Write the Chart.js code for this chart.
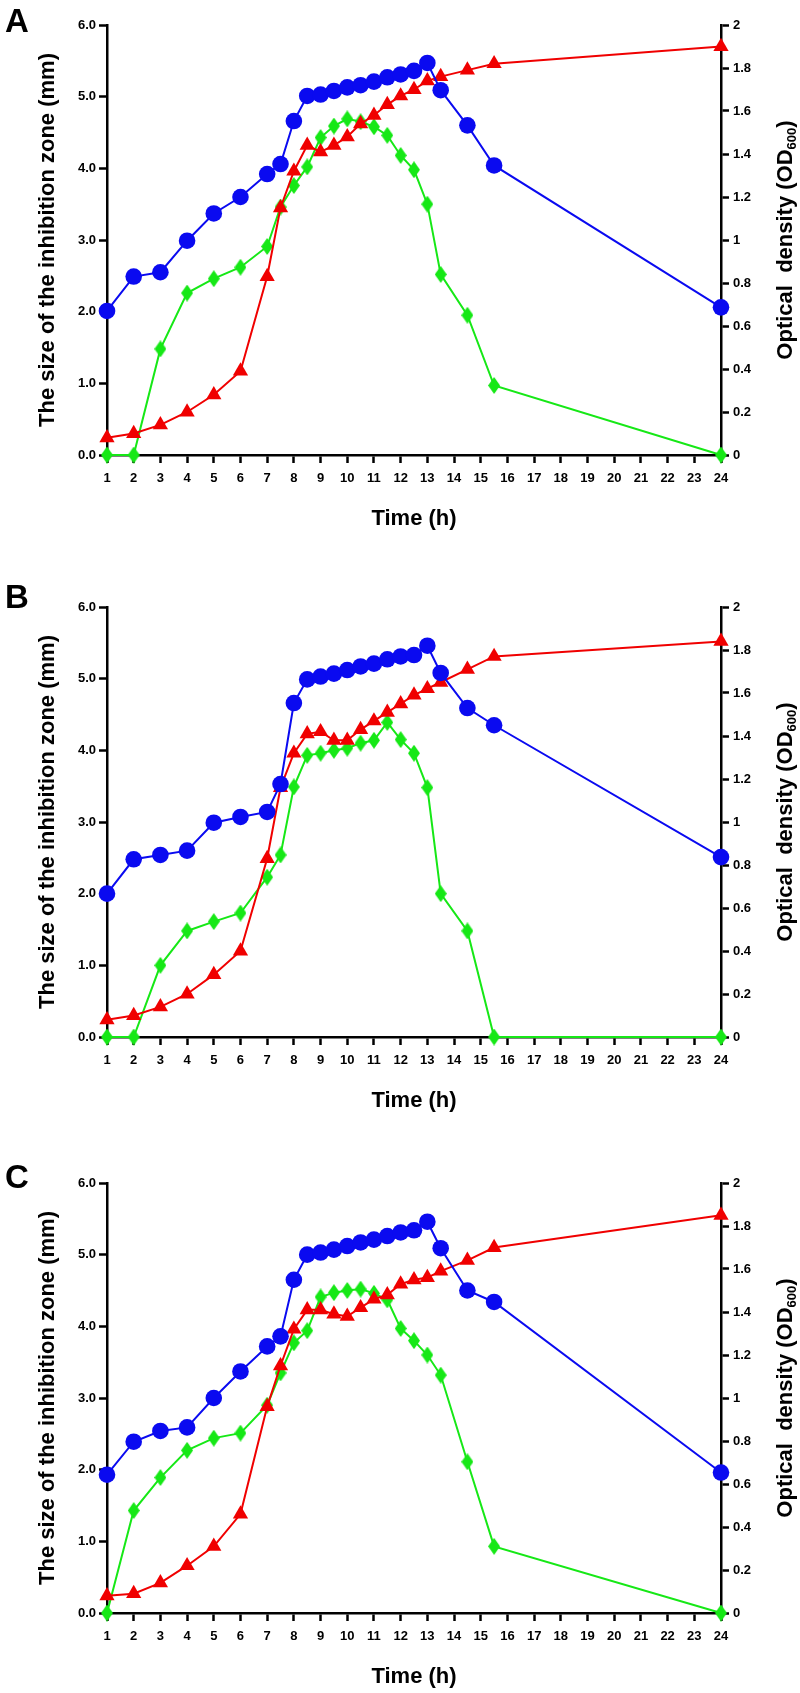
<!DOCTYPE html>
<html>
<head>
<meta charset="utf-8">
<script src="https://cdn.jsdelivr.net/npm/chart.js@4.4.1/dist/chart.umd.min.js"></script>
<style>
  html, body { margin: 0; padding: 0; background: #fff; }
  body { width: 800px; height: 1693px; position: relative; overflow: hidden; }
  .panel { position: absolute; left: 0; width: 800px; height: 535px; }
</style>
</head>
<body>
<div class="panel" style="top:0px"><canvas id="chartA"></canvas></div>
<div class="panel" style="top:582px"><canvas id="chartB"></canvas></div>
<div class="panel" style="top:1158px"><canvas id="chartC"></canvas></div>
<script>
// --- Data ---
const hours = [1, 2, 3, 4, 5, 6, 7, 7.5, 8, 8.5, 9, 9.5, 10, 10.5, 11, 11.5, 12, 12.5, 13, 13.5, 14.5, 15.5, 24];

const xTicks = [1, 2, 3, 4, 5, 6, 7, 8, 9, 10, 11, 12, 13, 14, 15, 16, 17, 18, 19, 20, 21, 22, 23, 24];
const zoneTicks = [0, 1, 2, 3, 4, 5, 6];
const odTicks = [0, 0.2, 0.4, 0.6, 0.8, 1, 1.2, 1.4, 1.6, 1.8, 2];

// panel A
const blueA = [2.01, 2.49, 2.55, 2.99, 3.37, 3.60, 3.92, 4.06, 4.66, 5.01, 5.03, 5.08, 5.13, 5.16, 5.21, 5.27, 5.31, 5.36, 5.47, 5.09, 4.60, 4.04, 2.06];
const greenA = [0, 0, 1.48, 2.26, 2.46, 2.62, 2.91, 3.46, 3.76, 4.02, 4.43, 4.59, 4.69, 4.65, 4.58, 4.46, 4.18, 3.98, 3.50, 2.52, 1.95, 0.97, 0];
const redA = [0.08, 0.10, 0.14, 0.20, 0.28, 0.39, 0.83, 1.15, 1.32, 1.44, 1.41, 1.44, 1.48, 1.54, 1.58, 1.63, 1.67, 1.70, 1.74, 1.76, 1.79, 1.82, 1.90];

// panel B
const blueB = [2.00, 2.48, 2.54, 2.60, 2.99, 3.07, 3.14, 3.53, 4.66, 4.99, 5.03, 5.07, 5.12, 5.17, 5.21, 5.27, 5.31, 5.33, 5.46, 5.08, 4.59, 4.35, 2.51];
const greenB = [0, 0, 1.00, 1.48, 1.61, 1.73, 2.23, 2.54, 3.49, 3.93, 3.96, 4.00, 4.03, 4.10, 4.14, 4.39, 4.15, 3.96, 3.48, 2.00, 1.48, 0, 0];
const redB = [0.08, 0.10, 0.14, 0.20, 0.29, 0.40, 0.83, 1.16, 1.32, 1.41, 1.42, 1.38, 1.38, 1.43, 1.47, 1.51, 1.55, 1.59, 1.62, 1.65, 1.71, 1.77, 1.84];

// panel C
const blueC = [1.93, 2.39, 2.54, 2.59, 3.00, 3.37, 3.72, 3.86, 4.65, 5.00, 5.03, 5.07, 5.12, 5.17, 5.21, 5.26, 5.31, 5.34, 5.46, 5.09, 4.50, 4.34, 1.96];
const greenC = [0, 1.43, 1.89, 2.27, 2.44, 2.51, 2.90, 3.35, 3.77, 3.94, 4.41, 4.47, 4.50, 4.52, 4.46, 4.37, 3.97, 3.80, 3.60, 3.32, 2.11, 0.93, 0];
const redC = [0.08, 0.09, 0.14, 0.22, 0.31, 0.46, 0.96, 1.15, 1.32, 1.41, 1.41, 1.39, 1.38, 1.42, 1.46, 1.48, 1.53, 1.55, 1.56, 1.59, 1.64, 1.70, 1.85];

const FONT = "Arial, 'Liberation Sans', sans-serif";
const BLUE = '#0a0af0';
const RED = '#f00000';
const GREEN = '#16e816';

// --- Marker helpers ---
function makeDiamond(w, h, color) {
    const c = document.createElement('canvas');
    c.width = w;
    c.height = h;
    const g = c.getContext('2d');
    g.fillStyle = color;
    g.beginPath();
    g.moveTo(w / 2, 0);
    g.lineTo(w, h / 2);
    g.lineTo(w / 2, h);
    g.lineTo(0, h / 2);
    g.closePath();
    g.fill();
    return c;
}
const diamond = makeDiamond(12, 17, GREEN);

function toPoints(values) {
    return hours.map((h, i) => ({ x: h, y: values[i] }));
}

// --- Letter + right-hand axis title (has a subscript) ---
const panelDecor = {
    id: 'panelDecor',
    afterDraw(chart, args, opts) {
        const ctx = chart.ctx;
        const area = chart.chartArea;
        ctx.save();
        ctx.fillStyle = '#000';
        ctx.textAlign = 'left';
        ctx.textBaseline = 'alphabetic';
        ctx.font = `bold 33px ${FONT}`;
        ctx.fillText(opts.letter, 5, opts.letterY);

        const main = 'Optical  density (OD';
        const sub = '600';
        const tail = ')';
        ctx.font = `bold 22px ${FONT}`;
        const wMain = ctx.measureText(main).width;
        const wTail = ctx.measureText(tail).width;
        ctx.font = `bold 13px ${FONT}`;
        const wSub = ctx.measureText(sub).width;
        const total = wMain + wSub + wTail;

        ctx.translate(792, (area.top + area.bottom) / 2);
        ctx.rotate(-Math.PI / 2);
        let x = -total / 2;
        ctx.font = `bold 22px ${FONT}`;
        ctx.fillText(main, x, 0);
        x += wMain;
        ctx.font = `bold 13px ${FONT}`;
        ctx.fillText(sub, x, 4);
        x += wSub;
        ctx.font = `bold 22px ${FONT}`;
        ctx.fillText(tail, x, 0);
        ctx.restore();
    }
};

function setTicks(list) {
    return scale => { scale.ticks = list.map(v => ({ value: v })); };
}

const axisGrid = {
    drawOnChartArea: false,
    drawTicks: true,
    tickLength: 8,
    tickWidth: 2.5,
    tickColor: '#000'
};
const axisBorder = { display: true, color: '#000', width: 2.5 };
const tickFont = { family: FONT, size: 13, weight: 'bold' };

function buildChart(canvasId, letter, letterY, blue, green, red) {
    return new Chart(document.getElementById(canvasId), {
        type: 'line',
        data: {
            datasets: [
                {
                    data: toPoints(blue), yAxisID: 'y',
                    borderColor: BLUE, backgroundColor: BLUE, borderWidth: 2,
                    pointStyle: 'circle', pointRadius: 8.3, pointBorderWidth: 0,
                    clip: false
                },
                {
                    data: toPoints(red), yAxisID: 'y1',
                    borderColor: RED, backgroundColor: RED, borderWidth: 2,
                    pointStyle: 'triangle', pointRadius: 8.8, pointBorderWidth: 0,
                    clip: false
                },
                {
                    data: toPoints(green), yAxisID: 'y',
                    borderColor: GREEN, backgroundColor: GREEN, borderWidth: 2,
                    pointStyle: diamond, pointRadius: 8, pointBorderWidth: 0,
                    clip: false
                }
            ]
        },
        options: {
            responsive: true,
            maintainAspectRatio: false,
            animation: false,
            events: [],
            layout: { padding: { top: 25, left: 0, right: 0, bottom: 0 } },
            plugins: {
                legend: { display: false },
                tooltip: { enabled: false },
                panelDecor: { letter: letter, letterY: letterY }
            },
            scales: {
                x: {
                    type: 'linear', min: 1, max: 24,
                    afterBuildTicks: setTicks(xTicks),
                    afterFit: s => { s.height = 80; },
                    grid: axisGrid, border: axisBorder,
                    ticks: { color: '#000', font: tickFont, padding: 8, maxRotation: 0, autoSkip: false },
                    title: {
                        display: true, text: 'Time (h)', color: '#000',
                        font: { family: FONT, size: 22, weight: 'bold' },
                        padding: { top: 0, bottom: 3 }
                    }
                },
                y: {
                    position: 'left', min: 0, max: 6,
                    afterBuildTicks: setTicks(zoneTicks),
                    afterFit: s => { s.width = 107; },
                    grid: axisGrid, border: axisBorder,
                    ticks: { color: '#000', font: tickFont, padding: 3, callback: v => v.toFixed(1) },
                    title: {
                        display: true, text: 'The size of the inhibition zone (mm)', color: '#000',
                        font: { family: FONT, size: 22, weight: 'bold' },
                        padding: { top: 35, bottom: 0 }
                    }
                },
                y1: {
                    position: 'right', min: 0, max: 2,
                    afterBuildTicks: setTicks(odTicks),
                    afterFit: s => { s.width = 79; },
                    grid: axisGrid, border: axisBorder,
                    ticks: { color: '#000', font: tickFont, padding: 4, callback: v => String(Math.round(v * 10) / 10) }
                }
            }
        },
        plugins: [panelDecor]
    });
}

// --- Initialization ---
buildChart('chartA', 'A', 32, blueA, greenA, redA);
buildChart('chartB', 'B', 26, blueB, greenB, redB);
buildChart('chartC', 'C', 30, blueC, greenC, redC);
</script>
</body>
</html>
